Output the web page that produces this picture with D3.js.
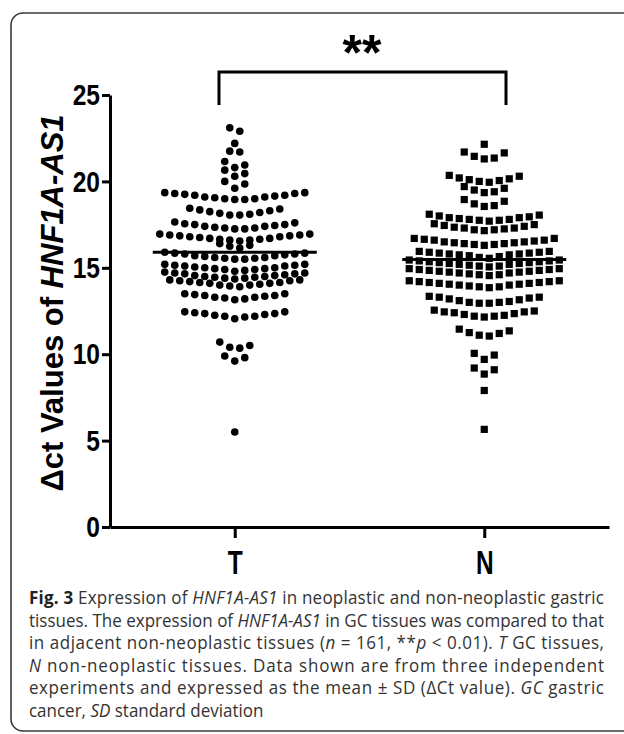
<!DOCTYPE html>
<html>
<head>
<meta charset="utf-8">
<script src="https://cdn.jsdelivr.net/npm/d3@7"></script>
<style>
  body { margin: 0; background: #fff; }
</style>
</head>
<body>
<svg width="624" height="734"></svg>
<script>

var groups = ["T", "N"];
var yTicks = [0, 5, 10, 15, 20, 25];

// delta Ct per tissue sample (n = 161 each)
var tValues = [
  23.1, 22.9, 22.2, 21.75, 21.7, 21.15, 20.95, 20.8, 20.65, 20.45, 20.3, 20.0, 19.85, 19.6,
  19.35, 19.35, 19.3, 19.3, 19.25, 19.2, 19.2, 19.15, 19.1, 19.1, 19.05, 19.0, 19.0, 18.95, 18.95,
  18.45, 18.4, 18.35, 18.3, 18.25, 18.2, 18.15, 18.1, 18.05, 18.05,
  17.65, 17.6, 17.55, 17.5, 17.5, 17.45, 17.4, 17.4, 17.35, 17.3, 17.3, 17.25, 17.25,
  16.95, 16.95, 16.9, 16.9, 16.85, 16.85, 16.8, 16.8, 16.75, 16.7, 16.7, 16.65, 16.65, 16.6, 16.6, 16.55,
  16.4, 16.3, 16.25, 16.15,
  15.9, 15.85, 15.85, 15.8, 15.8, 15.75, 15.7, 15.7, 15.65, 15.6, 15.6, 15.55, 15.55, 15.5, 15.5,
  15.2, 15.2, 15.15, 15.15, 15.1, 15.1, 15.05, 15.0, 15.0, 14.95, 14.95, 14.9, 14.9, 14.85, 14.8,
  14.75, 14.7, 14.7, 14.65, 14.65, 14.6, 14.55, 14.55, 14.5, 14.5, 14.45, 14.45, 14.4, 14.4, 14.35,
  14.3, 14.3, 14.25, 14.25, 14.2, 14.15, 14.15, 14.1, 14.1, 14.05, 14.0, 14.0, 13.95, 13.9,
  13.5, 13.5, 13.45, 13.4, 13.4, 13.35, 13.3, 13.3, 13.25, 13.2, 13.15,
  12.45, 12.45, 12.4, 12.35, 12.35, 12.3, 12.25, 12.2, 12.2, 12.15, 12.05,
  10.7, 10.5, 10.4, 10.35, 9.9, 9.8, 9.6,
  5.5
];

var nValues = [
  22.15,
  21.7, 21.65, 21.45, 21.35, 21.3,
  20.35, 20.3, 20.2, 20.15, 20.1, 20.05, 20.0, 19.95,
  19.7, 19.6, 19.5, 19.4, 19.35,
  18.95, 18.85, 18.7, 18.6, 18.55,
  18.1, 18.05, 18.0, 17.95, 17.9, 17.9, 17.85, 17.8, 17.8, 17.75, 17.75, 17.7,
  17.55, 17.5, 17.45, 17.4, 17.35, 17.3, 17.3, 17.25, 17.2, 17.2, 17.15,
  16.7, 16.7, 16.65, 16.6, 16.6, 16.55, 16.5, 16.5, 16.45, 16.45, 16.4, 16.4, 16.35, 16.35, 16.3,
  15.95, 15.95, 15.9, 15.9, 15.85, 15.85, 15.8, 15.8, 15.75, 15.75, 15.7, 15.65, 15.6, 15.55,
  15.45, 15.45, 15.4, 15.4, 15.35, 15.35, 15.3, 15.3, 15.25, 15.25, 15.2, 15.2, 15.15, 15.1, 15.1, 15.05,
  14.95, 14.95, 14.9, 14.9, 14.85, 14.85, 14.8, 14.8, 14.75, 14.75, 14.7, 14.7, 14.65, 14.6, 14.6, 14.55,
  14.25, 14.25, 14.2, 14.2, 14.15, 14.15, 14.1, 14.1, 14.05, 14.05, 14.0, 14.0, 13.95, 13.9, 13.9, 13.85,
  13.35, 13.3, 13.3, 13.25, 13.2, 13.15, 13.1, 13.05, 13.0, 13.0, 12.95, 12.95,
  12.55, 12.5, 12.45, 12.45, 12.4, 12.35, 12.3, 12.25, 12.2, 12.2, 12.15,
  11.45, 11.35, 11.25, 11.2, 11.1, 11.05,
  10.05, 9.95, 9.7,
  9.2, 9.1, 8.85,
  7.9,
  5.65
];

var yLabel = ["\u0394ct Values of ", "HNF1A-AS1"];
var sigLabel = "**";

var caption = [
  [["Fig. 3", "b"], [" Expression of ", ""], ["HNF1A-AS1", "i"], [" in neoplastic and non-neoplastic gastric", ""]],
  [["tissues. The expression of ", ""], ["HNF1A-AS1", "i"], [" in GC tissues was compared to that", ""]],
  [["in adjacent non-neoplastic tissues (", ""], ["n", "i"], [" = 161, **", ""], ["p", "i"], [" < 0.01). ", ""], ["T", "i"], [" GC tissues,", ""]],
  [["N", "i"], [" non-neoplastic tissues. Data shown are from three independent", ""]],
  [["experiments and expressed as the mean \u00b1 SD (\u0394Ct value). ", ""], ["GC", "i"], [" gastric", ""]],
  [["cancer, ", ""], ["SD", "i"], [" standard deviation", ""]]
];

var svg = d3.select("svg");

// frame around figure + caption (runs off the right edge)
svg.append("rect")
    .attr("x", 11).attr("y", 13)
    .attr("width", 700).attr("height", 718)
    .attr("rx", 12)
    .style("fill", "none")
    .style("stroke", "#3a3a3a")
    .style("stroke-width", 1.6);

var x = d3.scalePoint().domain(groups).range([110, 609]).padding(0.5);
var y = d3.scaleLinear().domain([0, 25]).range([527, 95]);

var fontBold = "'Liberation Sans', Arial, sans-serif";

// y axis
var yAxis = svg.append("g")
    .attr("transform", "translate(110,0)")
    .call(d3.axisLeft(y).tickValues(yTicks).tickSize(8).tickSizeOuter(0));
yAxis.select(".domain").style("stroke-width", 3);
yAxis.selectAll(".tick line").style("stroke-width", 3);
yAxis.selectAll(".tick text")
    .attr("x", 0)
    .attr("transform", "translate(-10,0) scale(0.82,1)")
    .style("font-family", fontBold)
    .style("font-weight", "bold")
    .style("font-size", "30px")
    .style("fill", "#000");

// x axis
var xAxis = svg.append("g")
    .attr("transform", "translate(0," + y(0) + ")")
    .call(d3.axisBottom(x).tickSize(11).tickSizeOuter(0));
xAxis.select(".domain").style("stroke-width", 3);
xAxis.selectAll(".tick line").style("stroke-width", 3);
xAxis.selectAll(".tick text")
    .attr("y", 0).attr("dy", null)
    .attr("transform", "translate(0,47) scale(0.72,1)")
    .style("font-family", fontBold)
    .style("font-weight", "bold")
    .style("font-size", "34px")
    .style("fill", "#000");

// y label
var yl = svg.append("text")
    .attr("transform", "translate(63,303) rotate(-90)")
    .style("text-anchor", "middle")
    .style("font-family", fontBold)
    .style("font-weight", "bold")
    .style("font-size", "31px");
yl.append("tspan").text(yLabel[0]);
yl.append("tspan").style("font-style", "italic").text(yLabel[1]);

// GraphPad-like scatter: values grouped into rows, each row spread out from the centre
function rowLayout(values, gap) {
    var sorted = values.slice().sort(d3.descending), rows = [], row = null;
    sorted.forEach(function(v) {
        if (!row || v < row.top - gap) { row = {top: v, items: []}; rows.push(row); }
        row.items.push(v);
    });
    var pts = [];
    rows.forEach(function(r) {
        var items = r.items.slice().sort(d3.ascending), n = items.length;
        items.forEach(function(v, i) {
            var k;
            if (n % 2) k = i == 0 ? 0 : (i % 2 ? 1 : -1) * Math.ceil(i / 2);
            else k = (i % 2 ? -1 : 1) * (Math.floor(i / 2) + 0.5);
            pts.push({v: v, k: k});
        });
    });
    return pts;
}

var step = 10;

svg.append("g").selectAll("circle")
    .data(rowLayout(tValues, 0.42))
    .enter().append("circle")
    .attr("cx", function(d) { return x("T") + d.k * step; })
    .attr("cy", function(d) { return y(d.v); })
    .attr("r", 3.8)
    .style("fill", "#000");

svg.append("g").selectAll("rect")
    .data(rowLayout(nValues, 0.42))
    .enter().append("rect")
    .attr("x", function(d) { return x("N") + d.k * step - 3.6; })
    .attr("y", function(d) { return y(d.v) - 3.6; })
    .attr("width", 7.2).attr("height", 7.2)
    .style("fill", "#000");

// mean lines
[["T", tValues], ["N", nValues]].forEach(function(g) {
    var m = d3.mean(g[1]);
    svg.append("line")
        .attr("x1", x(g[0]) - 82).attr("x2", x(g[0]) + 82)
        .attr("y1", y(m)).attr("y2", y(m))
        .style("stroke", "#000")
        .style("stroke-width", 3);
});

// significance bracket
svg.append("path")
    .attr("d", "M219,105V72H506V105")
    .style("fill", "none")
    .style("stroke", "#000")
    .style("stroke-width", 3);
svg.append("text")
    .attr("x", 362).attr("y", 70)
    .style("text-anchor", "middle")
    .style("font-family", fontBold)
    .style("font-weight", "bold")
    .style("font-size", "50px")
    .text(sigLabel);

// caption, justified like the journal layout
var capScale = 1, capLeft = 29, capWidth = 575;
var cap = svg.append("g");
var lines = caption.map(function(segs, i) {
    var t = cap.append("text")
        .attr("y", 604 + i * 22.6)
        .style("font-family", "'Open Sans', 'Noto Sans', sans-serif")
        .style("font-size", "18.5px")
        .style("fill", "#333");
    segs.forEach(function(s) {
        var sp = t.append("tspan").text(s[0]);
        if (s[1] == "b") sp.style("font-weight", "bold").style("fill", "#222");
        if (s[1] == "i") sp.style("font-style", "italic");
    });
    return t;
});
lines.slice(0, 5).forEach(function(t) {
    capScale = Math.min(capScale, capWidth / t.node().getComputedTextLength());
});
cap.attr("transform", "scale(" + capScale + ",1)");
lines.forEach(function(t, i) {
    t.attr("x", capLeft / capScale);
    if (i < 5) t.attr("textLength", capWidth / capScale).attr("lengthAdjust", "spacing");
});

</script>
</body>
</html>
